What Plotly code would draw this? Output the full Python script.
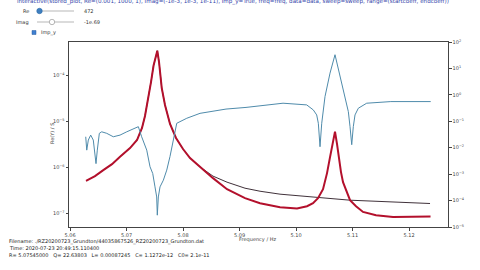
import plotly.graph_objects as go

# ---- data ----
red_f = [5.06283, 5.06442, 5.06589, 5.06743, 5.06885, 5.07062, 5.07186, 5.07274, 5.07327, 5.07381,
         5.07434, 5.07478, 5.07513, 5.07545, 5.07575, 5.07623, 5.07681, 5.07770, 5.07876, 5.08000,
         5.08124, 5.08301, 5.08531, 5.08779, 5.09097, 5.09363, 5.09717, 5.10018, 5.10195, 5.10301,
         5.10389, 5.10478, 5.10549, 5.10602, 5.10655, 5.10690, 5.10726, 5.10761, 5.10796, 5.10832,
         5.10903, 5.10956, 5.11062, 5.11186, 5.11416, 5.11717, 5.12381]
red_y = [5.15e-7, 6.53e-7, 8.83e-7, 1.19e-6, 1.72e-6, 2.66e-6, 3.97e-6, 7.26e-6, 1.32e-5, 2.96e-5,
         7.30e-5, 1.63e-4, 2.55e-4, 3.45e-4, 1.99e-4, 5.40e-5, 2.30e-5, 8.87e-6, 4.40e-6, 2.53e-6,
         1.61e-6, 1.03e-6, 5.90e-7, 3.40e-7, 2.17e-7, 1.69e-7, 1.38e-7, 1.29e-7, 1.45e-7, 1.69e-7,
         2.17e-7, 3.40e-7, 7.59e-7, 1.69e-6, 3.60e-6, 6.03e-6, 3.25e-6, 1.46e-6, 7.98e-7, 4.83e-7,
         2.78e-7, 1.96e-7, 1.45e-7, 1.09e-7, 9.22e-8, 8.47e-8, 8.65e-8]

black_f = [5.06283, 5.06442, 5.06589, 5.06743, 5.06885, 5.07062, 5.07186, 5.07274, 5.07327, 5.07381,
           5.07434, 5.07478, 5.07513, 5.07545, 5.07575, 5.07623, 5.07681, 5.07770, 5.07876, 5.08000,
           5.08124, 5.08301, 5.08531, 5.08779, 5.09097, 5.09363, 5.09717, 5.10301, 5.10956, 5.12372]
black_y = [5.15e-7, 6.53e-7, 8.83e-7, 1.19e-6, 1.72e-6, 2.66e-6, 3.97e-6, 7.26e-6, 1.32e-5, 2.96e-5,
           7.30e-5, 1.63e-4, 2.55e-4, 3.45e-4, 1.99e-4, 5.40e-5, 2.30e-5, 8.87e-6, 4.40e-6, 2.53e-6,
           1.61e-6, 1.03e-6, 6.53e-7, 4.83e-7, 3.57e-7, 3.07e-7, 2.65e-7, 2.28e-7, 1.96e-7, 1.66e-7]

blue_f = [5.06278, 5.06296, 5.06324, 5.06366, 5.06412, 5.06460, 5.06483, 5.06519, 5.06561,
          5.06650, 5.06766, 5.06885, 5.07004, 5.07150, 5.07209, 5.07268, 5.07358, 5.07416,
          5.07464, 5.07504, 5.07534, 5.07545, 5.07563, 5.07593, 5.07652, 5.07712, 5.07770,
          5.07889, 5.08066, 5.08301, 5.08761, 5.09115, 5.09469, 5.09770, 5.10189, 5.10306,
          5.10366, 5.10395, 5.10425, 5.10455, 5.10513, 5.10602, 5.10690, 5.10779, 5.10867,
          5.10926, 5.10956, 5.10986, 5.11014, 5.11044, 5.11103, 5.11251, 5.11678, 5.12384]
blue_y = [2.6e-2, 8.1e-3, 1.95e-2, 3.0e-2, 1.95e-2, 2.5e-3, 8.1e-3, 3.5e-2, 4.0e-2,
          3.5e-2, 2.6e-2, 3.0e-2, 4.0e-2, 5.4e-2, 6.25e-2, 2.6e-2, 8.1e-3, 1.9e-3,
          1.06e-3, 3.3e-4, 1.37e-4, 2.8e-5, 1.37e-4, 3.3e-4, 5.9e-4, 1.42e-3, 4.7e-3,
          8.4e-2, 0.13, 0.20, 0.29, 0.335, 0.417, 0.483, 0.417, 0.269,
          0.174, 0.0841, 0.0109, 0.0841, 0.861, 6.65, 33.0, 4.94, 0.861,
          0.232, 0.0625, 0.013, 0.0625, 0.174, 0.312, 0.483, 0.556, 0.556]

left_tickvals = [1e-7, 1e-6, 1e-5, 1e-4]
left_ticktext = ["10<sup>−7</sup>", "10<sup>−6</sup>", "10<sup>−5</sup>", "10<sup>−4</sup>"]
right_tickvals = [1e-5, 1e-4, 1e-3, 1e-2, 1e-1, 1e0, 1e1, 1e2]
right_ticktext = ["10<sup>−5</sup>", "10<sup>−4</sup>", "10<sup>−3</sup>", "10<sup>−2</sup>",
                  "10<sup>−1</sup>", "10<sup>0</sup>", "10<sup>1</sup>", "10<sup>2</sup>"]
x_tickvals = [5.06, 5.07, 5.08, 5.09, 5.10, 5.11, 5.12]

header_line = ("interactive(stored_plot, Re=(0.001, 1000, 1), Imag=(-1e-3, 1e-3, 1e-11), "
               "Imp_y=True, freq=freq, data=data, sweep=sweep, range=(startcoeff, endcoeff))")
slider_labels = ["Re", "Imag"]
slider_values = ["472", "-1e.69"]
checkbox_label = "Imp_y"
info_lines = ["Filename: ./RZ20200723_Grundton/44035867526_RZ20200723_Grundton.dat",
              "Time: 2020-07-23 20:49:15.110400",
              "R= 5.07545000   Q= 22.63803   L= 0.00087245   C= 1.1272e-12   C0= 2.1e-11"]

# ---- geometry helpers (pixel -> paper) ----
L, R, T, B = 69, 448, 42, 227
W, H = 480, 270
def px(x):
    return (x - L) / (R - L)
def py(y):
    return (B - y) / (B - T)

fig = go.Figure()
fig.add_trace(go.Scatter(x=blue_f, y=blue_y, mode="lines", yaxis="y2",
                         line=dict(color="#4f8bab", width=1),
                         showlegend=False))
fig.add_trace(go.Scatter(x=black_f, y=black_y, mode="lines",
                         line=dict(color="#2a1a24", width=0.9),
                         showlegend=False))
fig.add_trace(go.Scatter(x=red_f, y=red_y, mode="lines",
                         line=dict(color="#b3102c", width=2),
                         showlegend=False))

axis_font = dict(family="DejaVu Sans", size=5, color="#444")
fig.update_layout(
    width=W, height=H,
    margin=dict(l=L, r=W - R, t=T, b=H - B),
    paper_bgcolor="white", plot_bgcolor="white",
    xaxis=dict(range=[5.05982, 5.12690], tickvals=x_tickvals,
               tickformat=".2f", ticks="outside", ticklen=2.5, tickcolor="#444",
               showgrid=False, zeroline=False, showline=True, linecolor="#444", linewidth=1,
               mirror=True, tickfont=axis_font),
    yaxis=dict(type="log", range=[-7.29, -3.272], tickvals=left_tickvals, ticktext=left_ticktext,
               ticks="outside", ticklen=2.5, tickcolor="#444", showgrid=False, zeroline=False,
               showline=True, linecolor="#444", linewidth=1, tickfont=axis_font),
    yaxis2=dict(type="log", range=[-5, 2], tickvals=right_tickvals, ticktext=right_ticktext,
                overlaying="y", side="right", ticks="outside", ticklen=2.5, tickcolor="#444",
                showgrid=False, zeroline=False, showline=True, linecolor="#444", linewidth=1,
                tickfont=axis_font),
)

# ---- notebook widgets / text around the plot ----
ann = []
ann.append(dict(x=px(257), y=py(239), xref="paper", yref="paper", xanchor="center", yanchor="middle",
                text="Frequency / Hz", showarrow=False,
                font=dict(family="DejaVu Sans", size=5, color="#444")))
ann.append(dict(x=px(52), y=py(134), xref="paper", yref="paper", xanchor="center", yanchor="middle",
                text="Re(Y) / S", textangle=-90, showarrow=False,
                font=dict(family="DejaVu Sans", size=5, color="#444")))
ann.append(dict(x=px(15), y=py(1.5), xref="paper", yref="paper", xanchor="left", yanchor="middle",
                text=header_line, showarrow=False,
                font=dict(family="DejaVu Sans", size=5.6, color="#3344aa")))
shapes = []
for i, (lab, val) in enumerate(zip(slider_labels, slider_values)):
    yy = 11 + 11 * i
    ann.append(dict(x=px(31), y=py(yy), xref="paper", yref="paper", xanchor="right", yanchor="middle",
                    text=lab, showarrow=False, font=dict(family="DejaVu Sans", size=5, color="#333")))
    ann.append(dict(x=px(82), y=py(yy), xref="paper", yref="paper", xanchor="left", yanchor="middle",
                    text=val, showarrow=False, font=dict(family="DejaVu Sans", size=5, color="#333")))
    shapes.append(dict(type="line", xref="paper", yref="paper", x0=px(37), x1=px(74), y0=py(yy), y1=py(yy),
                       line=dict(color="#cfcfcf", width=1.5)))
hx = [39.5, 52]
hc = ["#3f7fbf", "#ffffff"]
for i in range(2):
    yy = 11 + 11 * i
    shapes.append(dict(type="circle", xref="paper", yref="paper",
                       x0=px(hx[i] - 2.7), x1=px(hx[i] + 2.7), y0=py(yy + 2.7), y1=py(yy - 2.7),
                       fillcolor=hc[i], line=dict(color="#999" if i else "#2f6fae", width=0.7)))
shapes.append(dict(type="rect", xref="paper", yref="paper", x0=px(32), x1=px(36), y0=py(34.5), y1=py(30.5),
                   fillcolor="#3f7fd0", line=dict(color="#2a5fa0", width=0.5)))
ann.append(dict(x=px(39), y=py(32.5), xref="paper", yref="paper", xanchor="left", yanchor="middle",
                text=checkbox_label, showarrow=False, font=dict(family="DejaVu Sans", size=5, color="#333")))
for i, line in enumerate(info_lines):
    ann.append(dict(x=px(7), y=py(241 + 7 * i), xref="paper", yref="paper", xanchor="left", yanchor="middle",
                    text=line, showarrow=False, font=dict(family="DejaVu Sans", size=5, color="#222")))
fig.update_layout(annotations=ann, shapes=shapes)

fig.write_html("out.html")
